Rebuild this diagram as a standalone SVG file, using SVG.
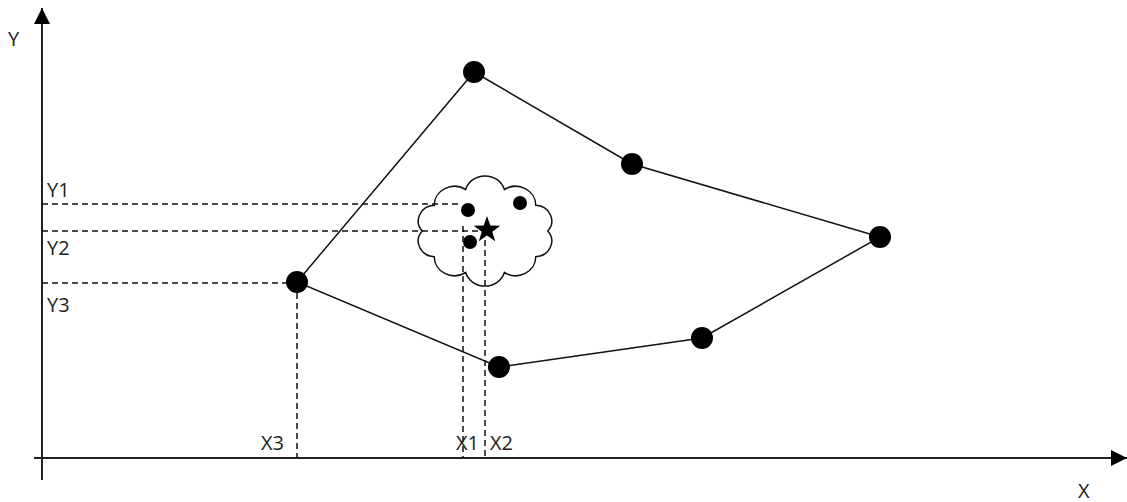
<svg xmlns="http://www.w3.org/2000/svg" width="1127" height="502" viewBox="0 0 1127 502">
<style>
text{font-family:"Open Sans","DejaVu Sans",sans-serif;font-size:20px;fill:#222}
.ax{stroke:#222;stroke-width:2;fill:none}
.edge{stroke:#111;stroke-width:1.5;fill:none}
.dash{stroke:#111;stroke-width:1.5;stroke-dasharray:6,4;fill:none}
.big{fill:#000}
</style>
<defs>
<marker id="arrB" viewBox="0 0 10 10" refX="10" refY="5" markerWidth="16" markerHeight="16" markerUnits="userSpaceOnUse" orient="auto">
<path d="M0,0 L10,5 L0,10 z" fill="#000"/>
</marker>
</defs>
<g id="axes">
<line class="ax" x1="42" y1="480" x2="42" y2="8" marker-end="url(#arrB)"/>
<line class="ax" x1="34" y1="458" x2="1127" y2="458" marker-end="url(#arrB)"/>
<text x="8" y="46">Y</text>
<text x="1078" y="498">X</text>
</g>
<g id="cloud">
<path transform="translate(485,231) scale(1.12,1.04) translate(-485,-231)" vector-effect="non-scaling-stroke" d="M541,231 A15,15 0 0 1 530.3,255.7 A18,18 0 0 1 502.3,270.9 A18,18 0 0 1 467.7,270.9 A18,18 0 0 1 439.7,255.7 A15,15 0 0 1 429,231 A15,15 0 0 1 439.7,206.3 A18,18 0 0 1 467.7,191.1 A18,18 0 0 1 502.3,191.1 A18,18 0 0 1 530.3,206.3 A15,15 0 0 1 541,231 Z" fill="#fff" stroke="#111" stroke-width="1.5"/>
</g>
<g id="connectors">
<polygon class="edge" points="474,72 632,164 880,237 702,338 499,367 297,282"/>
<line class="dash" x1="42" y1="204" x2="462" y2="204"/>
<line class="dash" x1="42" y1="231" x2="484" y2="231"/>
<line class="dash" x1="42" y1="283" x2="297" y2="283"/>
<line class="dash" x1="297" y1="283" x2="297" y2="458"/>
<line class="dash" x1="463" y1="226" x2="463" y2="458"/>
<line class="dash" x1="485" y1="240" x2="485" y2="458"/>
</g>
<g id="n1"><circle class="big" cx="474" cy="72" r="11"/></g>
<g id="n2"><circle class="big" cx="632" cy="164" r="11"/></g>
<g id="n3"><circle class="big" cx="880" cy="237" r="11"/></g>
<g id="n4"><circle class="big" cx="702" cy="338" r="11"/></g>
<g id="n5"><circle class="big" cx="499" cy="367" r="11"/></g>
<g id="n6"><circle class="big" cx="297" cy="282" r="11"/></g>
<g id="p1"><circle cx="468" cy="210" r="7"/></g>
<g id="p2"><circle cx="470" cy="242" r="7"/></g>
<g id="p3"><circle cx="520" cy="203" r="7"/></g>
<g id="star"><polygon points="487,216 490.3,225.5 500.3,225.7 492.3,231.8 495.2,241.3 487,235.6 478.8,241.3 481.7,231.8 473.7,225.7 483.7,225.5" fill="#000"/></g>
<g id="labels">
<text x="47" y="197">Y1</text>
<text x="47" y="255">Y2</text>
<text x="47" y="312">Y3</text>
<text x="261" y="450">X3</text>
<text x="456" y="450">X1</text>
<text x="490" y="450">X2</text>
</g>
</svg>
